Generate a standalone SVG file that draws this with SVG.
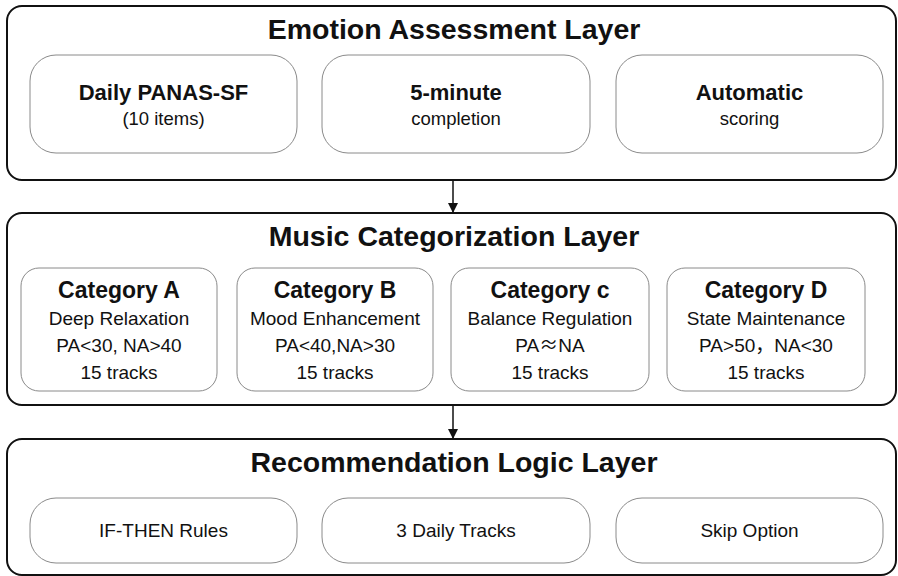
<svg xmlns="http://www.w3.org/2000/svg" width="898" height="576" viewBox="0 0 898 576">
<defs>
<style>
.layer{fill:#fff;stroke:#111;stroke-width:2}
.box{fill:#fff;stroke:#8a8a8a;stroke-width:1}
text{font-family:"Liberation Sans","Noto Sans CJK SC",Arial,sans-serif;fill:#111;text-anchor:middle}
.t{font-size:28.5px;font-weight:bold}
.b{font-size:22px;font-weight:bold}
.cb{font-size:23px;font-weight:bold}
.r{font-size:18.5px}
.r3{font-size:19px}
.c{font-size:19px}
.cjk{font-family:"Noto Sans CJK SC",sans-serif}
.conn{stroke:#111;stroke-width:1.5;fill:none}
</style>
<marker id="ah" markerWidth="10" markerHeight="10" refX="9" refY="5" orient="auto" markerUnits="userSpaceOnUse">
<path d="M0,0 L10,5 L0,10 Z" fill="#111"/>
</marker>
</defs>
<rect width="898" height="576" fill="#fff"/>
<g id="layer1">
<rect class="layer" x="7" y="6" width="889" height="174" rx="15"/>
<text class="t" x="454" y="39">Emotion Assessment Layer</text>
</g>
<g id="panas">
<rect class="box" x="30" y="55" width="267" height="98" rx="26"/>
<text class="b" x="163.5" y="100">Daily PANAS-SF</text>
<text class="r" x="163.5" y="125">(10 items)</text>
</g>
<g id="fivemin">
<rect class="box" x="322" y="55" width="268" height="98" rx="26"/>
<text class="b" x="456" y="100">5-minute</text>
<text class="r" x="456" y="125">completion</text>
</g>
<g id="auto">
<rect class="box" x="616" y="55" width="267" height="98" rx="26"/>
<text class="b" x="749.5" y="100">Automatic</text>
<text class="r" x="749.5" y="125">scoring</text>
</g>
<g id="layer2">
<rect class="layer" x="7" y="213" width="889" height="192" rx="15"/>
<text class="t" x="454" y="246">Music Categorization Layer</text>
</g>
<g id="catA">
<rect class="box" x="21" y="268" width="196" height="123" rx="18"/>
<text class="cb" x="119" y="298">Category A</text>
<text class="c" x="119" y="325">Deep Relaxation</text>
<text class="c" x="119" y="352">PA&lt;30, NA&gt;40</text>
<text class="c" x="119" y="379">15 tracks</text>
</g>
<g id="catB">
<rect class="box" x="237" y="268" width="196" height="123" rx="18"/>
<text class="cb" x="335" y="298">Category B</text>
<text class="c" x="335" y="325">Mood Enhancement</text>
<text class="c" x="335" y="352">PA&lt;40,NA&gt;30</text>
<text class="c" x="335" y="379">15 tracks</text>
</g>
<g id="catC">
<rect class="box" x="451" y="268" width="198" height="123" rx="18"/>
<text class="cb" x="550" y="298">Category c</text>
<text class="c" x="550" y="325">Balance Regulation</text>
<text class="c" x="550" y="352">PA<tspan class="cjk">≈</tspan>NA</text>
<text class="c" x="550" y="379">15 tracks</text>
</g>
<g id="catD">
<rect class="box" x="667" y="268" width="198" height="123" rx="18"/>
<text class="cb" x="766" y="298">Category D</text>
<text class="c" x="766" y="325">State Maintenance</text>
<text class="c" x="766" y="352">PA&gt;50，NA&lt;30</text>
<text class="c" x="766" y="379">15 tracks</text>
</g>
<g id="layer3">
<rect class="layer" x="7" y="439" width="889" height="136" rx="15"/>
<text class="t" x="454" y="472">Recommendation Logic Layer</text>
</g>
<g id="ifthen">
<rect class="box" x="30" y="498" width="267" height="65" rx="26"/>
<text class="r3" x="163.5" y="537">IF-THEN Rules</text>
</g>
<g id="daily">
<rect class="box" x="322" y="498" width="268" height="65" rx="26"/>
<text class="r3" x="456" y="537">3 Daily Tracks</text>
</g>
<g id="skip">
<rect class="box" x="616" y="498" width="267" height="65" rx="26"/>
<text class="r3" x="749.5" y="537">Skip Option</text>
</g>
<g id="connectors">
<line class="conn" x1="453" y1="181" x2="453" y2="212" marker-end="url(#ah)"/>
<line class="conn" x1="453" y1="406" x2="453" y2="438" marker-end="url(#ah)"/>
</g>
</svg>
